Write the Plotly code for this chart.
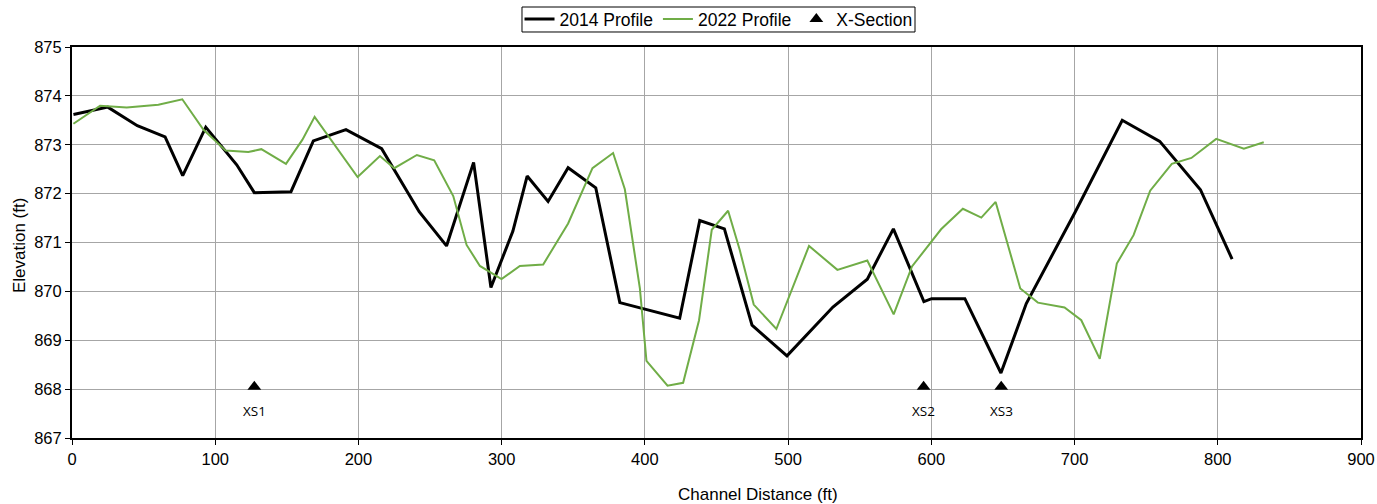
import plotly.graph_objects as go

# 2014 profile
dist_2014 = [1, 25, 45.6, 65, 77.3, 93.4, 115, 127.3, 152.9, 168.5, 191.3, 216.2, 242.4,
             261.5, 280.4, 292.5, 307.8, 317.8, 332.4, 346.4, 365.7, 382.5, 424.3, 438.3,
             455.5, 474.8, 499.2, 531.3, 555.3, 573.5, 594.8, 600.2, 623.4, 648.6, 666.3,
             700, 733.3, 759.5, 787.9, 810]
elev_2014 = [873.62, 873.77, 873.39, 873.16, 872.37, 873.36, 872.59, 872.02, 872.04, 873.08,
             873.31, 872.92, 871.63, 870.93, 872.64, 870.08, 871.23, 872.36, 871.84, 872.53,
             872.12, 869.77, 869.45, 871.45, 871.28, 869.31, 868.68, 869.68, 870.25, 871.28,
             869.79, 869.85, 869.85, 868.33, 869.75, 871.6, 873.5, 873.07, 872.08, 870.66]

# 2022 profile
dist_2022 = [1, 19.6, 38.2, 60.3, 77, 91.7, 107.3, 123.1, 132.2, 149.4, 160.8, 169.4, 199.4,
             215, 225, 240.8, 252.9, 266.2, 275.5, 284.8, 299.9, 312.7, 329, 346.4, 363.4,
             377.8, 386, 396.5, 401.1, 415.8, 426.7, 437.8, 446.7, 458.1, 466.2, 476, 491.8,
             514.6, 534.4, 555.3, 573.7, 586.5, 606.8, 622, 634.9, 644.9, 662.1, 674.4, 693,
             704.7, 717.6, 729.5, 741.2, 752.8, 767.9, 781.6, 798.9, 818.2, 832.1]
elev_2022 = [873.43, 873.8, 873.76, 873.82, 873.93, 873.31, 872.88, 872.85, 872.91, 872.61,
             873.1, 873.57, 872.34, 872.77, 872.52, 872.79, 872.68, 871.95, 870.95, 870.52,
             870.25, 870.52, 870.55, 871.39, 872.52, 872.83, 872.09, 870.06, 868.58, 868.07,
             868.13, 869.41, 871.26, 871.65, 870.85, 869.73, 869.23, 870.93, 870.44, 870.63,
             869.53, 870.51, 871.27, 871.69, 871.51, 871.83, 870.06, 869.77, 869.67, 869.41,
             868.62, 870.57, 871.15, 872.06, 872.61, 872.73, 873.12, 872.92, 873.05]

# Cross sections
xs_dist = [127.3, 594.6, 648.8]
xs_elev = [868.05, 868.05, 868.05]
xs_labels = ["XS1", "XS2", "XS3"]

x_ticks = [0, 100, 200, 300, 400, 500, 600, 700, 800, 900]
y_ticks = [867, 868, 869, 870, 871, 872, 873, 874, 875]

fig = go.Figure()
fig.add_trace(go.Scatter(x=dist_2014, y=elev_2014, mode="lines", name="2014 Profile",
                         line=dict(color="black", width=3)))
fig.add_trace(go.Scatter(x=dist_2022, y=elev_2022, mode="lines", name="2022 Profile",
                         line=dict(color="#70AD47", width=2)))
fig.add_trace(go.Scatter(x=xs_dist, y=xs_elev, mode="markers", name="X-Section",
                         marker=dict(symbol="triangle-up", color="black", size=12)))

for xd, yd, lab in zip(xs_dist, xs_elev, xs_labels):
    fig.add_annotation(x=xd, y=yd, text=lab, showarrow=False, yshift=-24,
                       font=dict(family="Open Sans", size=13.5, color="black"))

fig.add_annotation(x=0.532, xref="paper", y=0, yref="paper", yanchor="middle", yshift=-56,
                   text="Channel Distance (ft)", showarrow=False,
                   font=dict(family="Liberation Sans", size=17, color="black"))
fig.add_annotation(x=-0.0411, xref="paper", y=0.491, yref="paper", textangle=-90,
                   xanchor="center", yanchor="middle",
                   text="Elevation (ft)", showarrow=False,
                   font=dict(family="Liberation Sans", size=17, color="black"))

# legend frame
fig.add_shape(type="rect", xref="paper", yref="paper",
              x0=0.3491, x1=0.654, y0=1.0384, y1=1.1023,
              line=dict(color="black", width=1), fillcolor="rgba(0,0,0,0)")

axis_common = dict(showline=True, linecolor="black", linewidth=2, mirror=True,
                   showgrid=True, gridcolor="#a6a6a6", gridwidth=1, zeroline=False,
                   ticks="outside", ticklen=5, tickcolor="black", tickwidth=1,
                   automargin=False,
                   tickfont=dict(family="Liberation Sans", size=16.5, color="black"))

fig.update_xaxes(range=[0, 900], tickvals=x_ticks, **axis_common)
fig.update_yaxes(range=[867, 875], tickvals=y_ticks, **axis_common)

fig.update_layout(
    width=1377, height=504,
    margin=dict(l=72, r=16, t=47, b=66, autoexpand=False),
    plot_bgcolor="white", paper_bgcolor="white",
    font=dict(family="Liberation Sans", color="black"),
    legend=dict(orientation="h", x=0.5218, xref="container", xanchor="center",
                y=0.998, yref="container", yanchor="top",
                bgcolor="rgba(0,0,0,0)", borderwidth=0,
                font=dict(family="Liberation Sans", size=17.5, color="black"),
                itemwidth=30, tracegroupgap=0),
)

fig.write_html("out.html")
